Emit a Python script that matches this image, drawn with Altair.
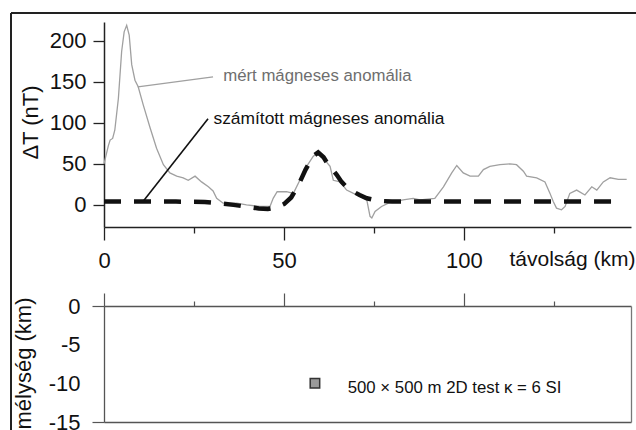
import altair as alt
import pandas as pd

# measured magnetic anomaly along the profile (km, nT)
dist_meas = [0, 1.2, 1.7, 2.4, 3.0, 4.0, 4.9, 5.6, 6.3, 7.0, 7.7, 8.6, 9.5, 10.9,
             12.8, 14.6, 16.5, 18.3, 20.2, 22.0, 23.4, 25.3, 27.1, 29.0, 30.3, 31.3,
             33.1, 36.9, 39.6, 43.3, 46.1, 47.0, 48.1, 50.7, 52.6, 54.4, 56.3, 58.1,
             59.1, 60.9, 62.8, 63.7, 65.6, 67.4, 69.3, 72.0, 73.0, 73.9, 74.4, 75.3,
             77.1, 79.0, 83.1, 85.9, 87.8, 91.9, 94.3, 96.6, 98.0, 99.8, 101.7, 104.0,
             105.4, 107.2, 110.0, 112.8, 114.6, 116.5, 117.4, 120.2, 122.5, 123.9,
             124.8, 125.7, 127.1, 128.1, 129.4, 131.3, 133.6, 135.5, 136.9, 138.7,
             140.6, 142.9, 145.2]
dT_meas = [50, 72, 79, 81, 91, 130, 187, 211, 219, 207, 171, 152, 144, 122,
           94, 69, 49, 39, 35, 33, 30, 35, 28, 22, 17, 8,
           2, 2, 0, -2, -2, 8, 16, 16, 14, 30, 47, 59,
           63, 57, 47, 30, 28, 18, 14, 10, 6, -14, -16, -8,
           -2, 2, 6, 8, 6, 8, 22, 39, 48, 39, 35, 35,
           43, 47, 49, 50, 49, 41, 35, 33, 28, 14,
           4, -4, -6, -2, 14, 18, 12, 22, 18, 28,
           33, 31, 31]

# computed anomaly of the 2D body
dist_calc = [0, 10, 20, 28, 32, 36, 40, 43, 45.5, 48, 50, 52, 54, 56, 58, 59.5,
             61, 62, 64.6, 66, 68, 71, 73, 76, 80, 90, 100, 110, 120, 130, 142.8]
dT_calc = [4, 4, 4, 3.5, 2, 0, -2.5, -4.5, -5, -3, 1, 9, 24, 43, 59, 64,
           58, 51, 37, 28, 19, 12, 8, 5, 4, 4, 4, 4, 4, 4, 4]

# axis ticks
x_major = [0, 50, 100]
x_minor = [25, 75, 125]
dT_ticks = [0, 50, 100, 150, 200]
depth_ticks = [0, -5, -10, -15]

# source body
body_km = [58.6]
body_depth = [-10]
body_text = ["500 × 500 m 2D test κ = 6 SI"]
body_text_km = [67.7]
body_text_depth = [-11.25]

# curve labels and their leader lines
label_text = ["mért mágneses anomália", "számított mágneses anomália"]
label_km = [33.1, 30.4]
label_dT = [151, 98.8]
leader_km = [30.3, 28.9]
leader_dT = [156, 104.9]
leader_km2 = [9.4, 11.0]
leader_dT2 = [144, 5]

W, H = 625, 417
FONT = "Liberation Sans"
AX = "#222222"
AX2 = "#555555"
# plain hyphen for negative tick labels
PLAIN_NUM = "datum.value < 0 ? '-' + abs(datum.value) : '' + datum.value"

xs = alt.Scale(domain=[0, 146.4], range=[93, 620], nice=False, zero=False)
dts = alt.Scale(domain=[-27, 223], range=[214, 9], nice=False, zero=False)
ds = alt.Scale(domain=[-15, 0], range=[409, 293], nice=False, zero=False)

meas = pd.DataFrame({"km": dist_meas, "dT": dT_meas})
calc = pd.DataFrame({"km": dist_calc, "dT": dT_calc})
labels = pd.DataFrame({"km": label_km, "dT": label_dT, "t": label_text})
leaders = pd.DataFrame({"km": leader_km, "dT": leader_dT,
                        "km2": leader_km2, "dT2": leader_dT2})
body = pd.DataFrame({"km": body_km, "d": body_depth})
body_lbl = pd.DataFrame({"km": body_text_km, "d": body_text_depth, "t": body_text})

# top panel x axis: major ticks with labels and title
ax_top_major = alt.Axis(orient="bottom", offset=-203, values=x_major, tickSize=13,
                        tickColor=AX, tickWidth=1.3, domainColor=AX, domainWidth=1.5,
                        grid=False, labelFlush=False, labelFontSize=22, labelFont=FONT,
                        labelColor="#111111", labelPadding=10,
                        title="távolság (km)", titleX=498, titleY=32, titleAlign="left",
                        titleBaseline="middle", titleFontSize=21, titleFont=FONT,
                        titleFontWeight="normal", titleColor="#111111")
ax_top_minor = alt.Axis(orient="bottom", offset=-203, values=x_minor, tickSize=6,
                        tickColor=AX, tickWidth=1.3, domain=False, labels=False,
                        grid=False, title=None)
ax_low_major = alt.Axis(orient="top", offset=-293, values=x_major, tickSize=13,
                        tickColor=AX2, tickWidth=1.2, domainColor=AX2, domainWidth=1.3,
                        labels=False, grid=False, title=None)
ax_low_minor = alt.Axis(orient="top", offset=-293, values=x_minor, tickSize=5,
                        tickColor=AX2, tickWidth=1.2, domain=False, labels=False,
                        grid=False, title=None)
ax_low_bottom = alt.Axis(orient="bottom", offset=-8, ticks=False, labels=False,
                         domainColor=AX2, domainWidth=1.3, grid=False, title=None)

ax_dT = alt.Axis(orient="left", offset=-93, values=dT_ticks, tickSize=11,
                 tickColor=AX, tickWidth=1.3, domainColor=AX, domainWidth=1.5,
                 grid=False, labelFontSize=22, labelFont=FONT, labelColor="#111111",
                 labelPadding=7, title="ΔT (nT)", titleX=-74, titleY=109,
                 titleAngle=270, titleAlign="center", titleBaseline="middle",
                 titleFontSize=22, titleFont=FONT, titleFontWeight="normal",
                 titleColor="#111111")
ax_depth = alt.Axis(orient="left", offset=-93, values=depth_ticks, tickSize=12,
                    tickColor=AX2, tickWidth=1.2, domainColor=AX2, domainWidth=1.3,
                    tickOpacity={"condition": {"test": "datum.value === 0 || datum.value === -15",
                                               "value": 1}, "value": 0},
                    labelExpr=PLAIN_NUM,
                    grid=False, labelFontSize=22, labelFont=FONT, labelColor="#111111",
                    labelPadding=12, title="mélység (km)", titleX=-81, titleY=350,
                    titleAngle=270, titleAlign="center", titleBaseline="middle",
                    titleFontSize=22, titleFont=FONT, titleFontWeight="normal",
                    titleColor="#111111")
ax_depth_right = alt.Axis(orient="right", offset=-5, ticks=False, labels=False,
                          domainColor="#777777", domainWidth=1.3, grid=False, title=None)

measured = alt.Chart(meas).mark_line(color="#a0a0a0", strokeWidth=1.3).encode(
    x=alt.X("km:Q", scale=xs, axis=ax_top_major),
    y=alt.Y("dT:Q", scale=dts, axis=ax_dT),
)
computed = alt.Chart(calc).mark_line(color="#111111", strokeWidth=4.5,
                                     strokeDash=[17, 13]).encode(
    x=alt.X("km:Q", scale=xs, axis=ax_top_minor),
    y=alt.Y("dT:Q", scale=dts, axis=None),
)
leader_meas = alt.Chart(leaders.iloc[[0]]).mark_rule(color="#a0a0a0", strokeWidth=1.3).encode(
    x=alt.X("km:Q", scale=xs, axis=ax_low_major), x2="km2:Q",
    y=alt.Y("dT:Q", scale=dts, axis=None), y2="dT2:Q",
)
leader_calc = alt.Chart(leaders.iloc[[1]]).mark_rule(color="#111111", strokeWidth=1.6).encode(
    x=alt.X("km:Q", scale=xs, axis=ax_low_minor), x2="km2:Q",
    y=alt.Y("dT:Q", scale=dts, axis=None), y2="dT2:Q",
)
label_meas = alt.Chart(labels.iloc[[0]]).mark_text(
    align="left", baseline="alphabetic", font=FONT, fontSize=16.8, color="#6e6e6e"
).encode(
    x=alt.X("km:Q", scale=xs, axis=ax_low_bottom),
    y=alt.Y("dT:Q", scale=dts, axis=None), text="t:N",
)
label_calc = alt.Chart(labels.iloc[[1]]).mark_text(
    align="left", baseline="alphabetic", font=FONT, fontSize=17.4, color="#111111"
).encode(
    x=alt.X("km:Q", scale=xs, axis=None),
    y=alt.Y("dT:Q", scale=dts, axis=None), text="t:N",
)
body_mark = alt.Chart(body).mark_square(size=90, color="#9a9a9a", stroke="#333333",
                                        strokeWidth=1.5, opacity=1).encode(
    x=alt.X("km:Q", scale=xs, axis=None),
    y=alt.Y("d:Q", scale=ds, axis=ax_depth),
)
body_label = alt.Chart(body_lbl).mark_text(
    align="left", baseline="alphabetic", font=FONT, fontSize=16.8, color="#111111"
).encode(
    x=alt.X("km:Q", scale=xs, axis=None),
    y=alt.Y("d:Q", scale=ds, axis=ax_depth_right), text="t:N",
)

frame_src = alt.Data(values=[{"k": 0}])
frame_top = alt.Chart(frame_src).mark_rule(color="#222222", strokeWidth=2).encode(
    x=alt.value(0), x2=alt.value(W), y=alt.value(0))
frame_left = alt.Chart(frame_src).mark_rule(color="#222222", strokeWidth=2).encode(
    x=alt.value(0), y=alt.value(0), y2=alt.value(H))

chart = alt.layer(
    frame_top, frame_left, measured, computed, leader_meas, leader_calc,
    label_meas, label_calc, body_mark, body_label,
).resolve_scale(y="independent").resolve_axis(
    x="independent", y="independent"
).properties(
    width=W, height=H,
    padding={"left": 11, "top": 13, "right": 0, "bottom": 0},
    autosize=alt.AutoSizeParams(type="none"),
    background="white",
).configure_view(strokeWidth=0).configure(font=FONT)

chart.save("out.html", embed_options={"renderer": "svg", "actions": False})
